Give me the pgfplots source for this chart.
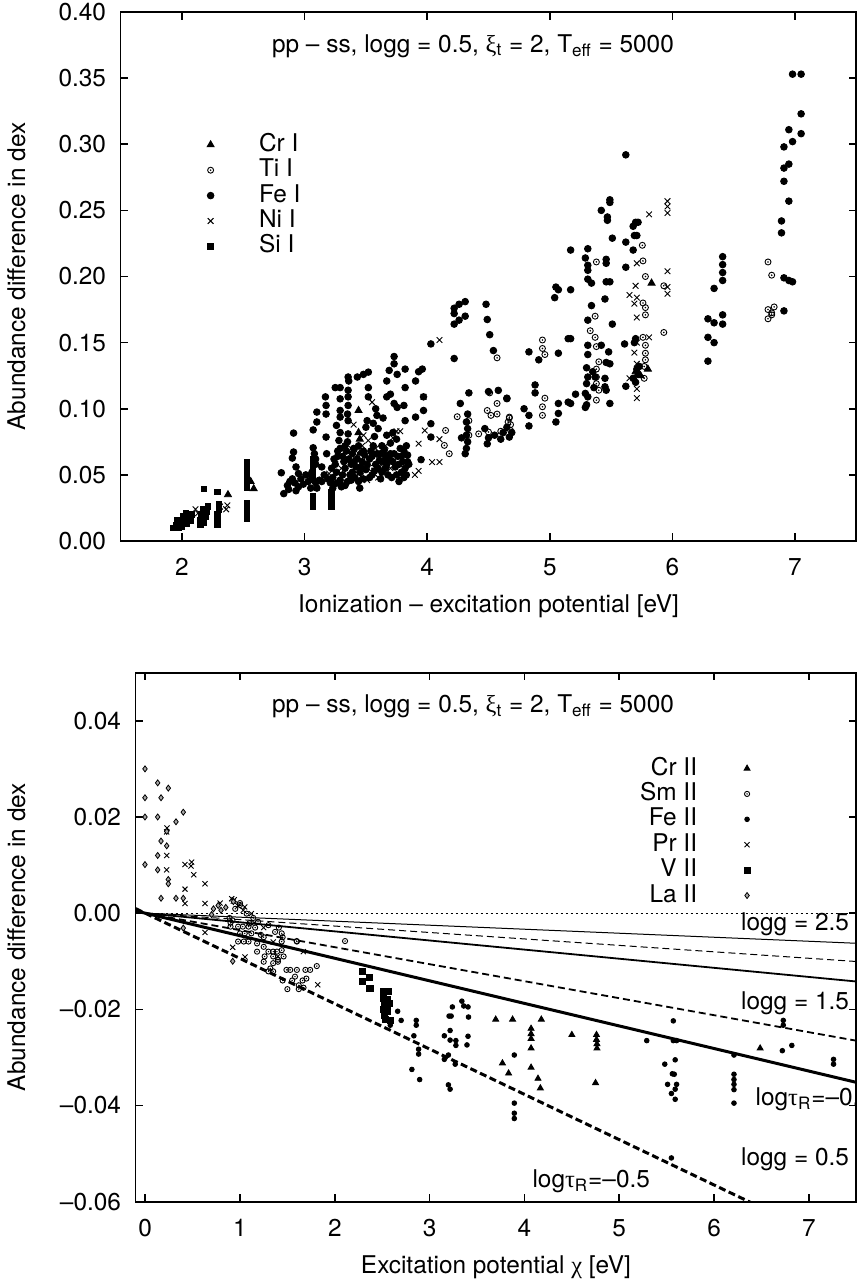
\documentclass[border=0pt]{standalone}
\usepackage{fontspec}
\setmainfont{TeX Gyre Heros}
\newfontfamily\grk{Liberation Serif}
\usepackage{pgfplots}
\pgfplotsset{compat=1.18}

% open circle with a dot in the middle (gnuplot point type 6)
\pgfdeclareplotmark{odot}{%
  \pgfpathcircle{\pgfpointorigin}{\pgfplotmarksize}\pgfusepathqstroke
  \pgfpathcircle{\pgfpointorigin}{0.3\pgfplotmarksize}\pgfusepathqfill}

\pgfplotsset{
  panel/.style={
    scale only axis, height=264.5pt,
    axis line style={line width=0.8pt},
    tick style={line width=0.8pt, black},
    major tick length=3.8pt, tick align=inside,
    scaled ticks=false,
    /pgf/number format/assume math mode=true,
    yticklabel style={xshift=-3.8pt},
    xticklabel style={yshift=-5.3pt},
    legend image code/.code={\draw[##1] plot coordinates {(0pt,0pt)};},
    legend style={draw=none, fill=none, inner sep=0pt, row sep=0pt,
      nodes={inner xsep=0pt, inner ysep=1pt, text height=8.6pt, text depth=2.1pt}},
  },
  pt/.style={only marks, black, mark options={line width=0.45pt, fill=black}},
}

\begin{document}
\begin{tikzpicture}[font=\fontsize{12.2}{14}\selectfont]
\useasboundingbox (-428.15pt,-635pt) rectangle (3.85pt,6pt);

% ---------------- top panel ----------------
\begin{axis}[panel, at={(0pt,0pt)}, anchor=north east, width=367.8pt,
  xmin=1.5, xmax=7.5, ymin=0, ymax=0.4,
  xtick={2,3,4,5,6,7}, xticklabels={2,3,4,5,6,7},
  ytick={0,0.05,0.1,0.15,0.2,0.25,0.3,0.35,0.4},
  yticklabels={0.00,0.05,0.10,0.15,0.20,0.25,0.30,0.35,0.40},
  xlabel={Ionization – excitation potential [eV]},
  ylabel={Abundance difference in dex},
  xlabel style={at={(axis description cs:0.5,-0.1355)}, anchor=base},
  ylabel style={at={(axis description cs:-0.1301,0.5)}, anchor=base},
  legend cell align=left,
  legend style={at={(axis cs:2.202,0.3095)}, anchor=north west, column sep=22.5pt},
]
\addplot[pt, mark=triangle*, mark size=2pt] coordinates {
(2.375,0.035)(2.585,0.0395)(2.56,0.045)(3.44,0.0987)(3.44,0.082)(3.45,0.077)
(3.45,0.066)(3.40,0.060)(5.83,0.195)(5.80,0.13)(5.70,0.128)(5.74,0.125)
};
\addlegendentry{Cr I}
\addplot[pt, mark=odot, mark size=1.5pt] coordinates {
(4.57,0.1385)(4.51,0.112)(4.49,0.0987)(4.57,0.104)(4.52,0.095)(4.57,0.096)
(4.67,0.0937)(4.42,0.081)(4.50,0.0824)(4.60,0.083)(4.68,0.0836)(4.15,0.0836)
(4.14,0.0723)(4.18,0.066)(4.245,0.094)(4.34,0.091)(4.34,0.080)(4.68,0.088)
(4.66,0.090)(4.94,0.152)(4.94,0.1456)(4.96,0.141)(4.96,0.108)(4.94,0.1015)
(4.94,0.095)(4.67,0.093)(5.38,0.211)(5.37,0.17)(5.33,0.159)(5.37,0.154)
(5.38,0.147)(5.40,0.1355)(5.38,0.13)(5.38,0.124)(5.38,0.119)(5.40,0.114)
(5.38,0.1065)(5.755,0.2236)(5.76,0.2118)(5.78,0.20)(5.93,0.193)(5.76,0.18)
(5.78,0.1765)(5.78,0.171)(5.93,0.1577)(5.76,0.154)(5.78,0.148)(5.78,0.142)
(5.78,0.137)(5.77,0.132)(5.77,0.123)(6.78,0.211)(6.81,0.201)(6.83,0.177)
(6.78,0.175)(6.81,0.1725)(6.78,0.168)(6.81,0.171)(3.55,0.055)(3.70,0.062)
(3.78,0.050)
};
\addlegendentry{Ti I}
\addplot[pt, mark=*, mark size=1.65pt] coordinates {
(2.81,0.0516)(2.83,0.0358)(2.91,0.0816)(2.91,0.0673)(2.90,0.0627)(2.93,0.056)
(2.95,0.051)(2.86,0.042)(2.88,0.045)(2.90,0.047)(2.92,0.044)(2.95,0.041)
(2.97,0.047)(2.99,0.043)(2.87,0.039)(2.93,0.038)
(3.07,0.084)(3.07,0.0705)(3.10,0.0975)(3.10,0.090)(3.06,0.052)(3.09,0.058)
(3.08,0.066)(3.09,0.044)(3.10,0.040)(3.06,0.048)(3.09,0.062)
(3.17,0.109)(3.175,0.1025)(3.175,0.096)(3.175,0.0786)(3.18,0.066)(3.16,0.050)
(3.14,0.045)(3.19,0.047)(3.21,0.044)(3.23,0.048)(3.25,0.116)(3.29,0.116)
(3.29,0.1075)(3.29,0.0987)(3.29,0.0937)(3.26,0.0874)(3.29,0.082)(3.28,0.076)
(3.29,0.070)(3.27,0.064)(3.25,0.058)(3.26,0.052)(3.29,0.046)(3.24,0.043)(3.30,0.041)
(3.355,0.124)(3.36,0.121)(3.355,0.114)(3.355,0.109)(3.355,0.1025)(3.35,0.096)
(3.355,0.091)(3.355,0.081)(3.35,0.075)(3.34,0.068)(3.36,0.062)(3.33,0.055)
(3.37,0.050)(3.35,0.045)(3.32,0.060)(3.38,0.058)
(3.43,0.124)(3.48,0.126)(3.52,0.1277)(3.52,0.116)(3.52,0.109)(3.50,0.086)
(3.51,0.091)(3.56,0.089)(3.40,0.070)(3.42,0.056)(3.45,0.052)(3.47,0.060)
(3.49,0.065)(3.50,0.054)(3.53,0.062)(3.54,0.068)(3.55,0.050)(3.48,0.047)
(3.44,0.045)(3.56,0.072)(3.58,0.058)(3.57,0.079)(3.59,0.095)(3.58,0.100)
(3.69,0.129)(3.73,0.1395)(3.73,0.134)(3.755,0.126)(3.67,0.121)(3.67,0.109)
(3.70,0.111)(3.73,0.104)(3.755,0.101)(3.81,0.1025)(3.82,0.130)(3.82,0.116)
(3.82,0.091)(3.72,0.082)(3.67,0.080)(3.75,0.077)(3.62,0.066)(3.64,0.060)
(3.66,0.055)(3.68,0.050)(3.70,0.066)(3.72,0.060)(3.74,0.056)(3.76,0.064)
(3.78,0.070)(3.80,0.060)(3.82,0.055)(3.84,0.065)(3.83,0.072)(3.79,0.052)
(3.81,0.048)(3.63,0.072)(3.70,0.074)(3.62,0.047)(3.66,0.064)(3.85,0.058)
(3.77,0.045)(3.60,0.085)(3.64,0.093)
(3.22,0.055)(3.24,0.062)(3.27,0.068)(3.31,0.050)(3.31,0.064)(3.33,0.072)
(3.38,0.046)(3.39,0.066)(3.41,0.048)(3.43,0.062)(3.44,0.072)(3.46,0.056)
(3.48,0.068)(3.51,0.058)(3.53,0.048)(3.55,0.064)(3.57,0.053)(3.59,0.066)
(3.60,0.055)(3.61,0.061)(3.63,0.052)(3.65,0.069)(3.67,0.058)(3.69,0.062)
(3.71,0.048)(3.73,0.066)(3.75,0.050)(3.77,0.058)(3.79,0.064)(3.81,0.068)
(3.83,0.050)(3.84,0.060)(3.23,0.040)(3.27,0.044)(3.33,0.042)(3.39,0.052)
(3.45,0.040)(3.12,0.046)(3.14,0.056)(3.03,0.045)(3.05,0.040)(3.01,0.050)
(3.905,0.121)(3.93,0.128)(3.96,0.130)(3.97,0.109)(3.97,0.0987)(3.905,0.0937)
(4.03,0.0887)(4.03,0.0786)(3.95,0.0615)(4.03,0.149)
(4.22,0.176)(4.22,0.172)(4.26,0.179)(4.31,0.181)(4.26,0.167)(4.31,0.170)
(4.22,0.164)(4.22,0.138)(4.34,0.112)(4.27,0.104)(4.33,0.096)(4.32,0.090)
(4.33,0.085)(4.32,0.080)(4.33,0.075)(4.32,0.070)(4.31,0.066)(4.28,0.078)
(4.48,0.179)(4.49,0.1675)(4.51,0.156)(4.54,0.144)(4.50,0.113)(4.58,0.1139)
(4.65,0.1076)(4.49,0.0735)(4.60,0.077)(4.67,0.0786)(4.47,0.085)(4.50,0.078)
(4.55,0.080)(4.62,0.082)(4.65,0.086)(4.69,0.082)
(4.83,0.143)(4.91,0.137)(4.88,0.118)(4.88,0.112)(4.83,0.095)(4.83,0.087)
(4.79,0.100)(4.65,0.108)(5.07,0.104)(5.07,0.0965)(5.05,0.090)(5.15,0.105)
(5.17,0.104)(5.21,0.111)(5.05,0.192)(5.07,0.19)(5.04,0.184)(5.17,0.19)
(5.17,0.220)(5.15,0.153)(5.17,0.153)(5.07,0.142)
(5.31,0.221)(5.29,0.214)(5.31,0.2085)(5.31,0.2047)(5.31,0.198)(5.34,0.195)
(5.46,0.213)(5.46,0.21)(5.46,0.196)(5.49,0.196)(5.45,0.183)(5.34,0.178)
(5.31,0.167)(5.51,0.164)(5.49,0.258)(5.49,0.256)(5.42,0.250)(5.47,0.245)
(5.47,0.2425)(5.51,0.229)(5.31,0.148)(5.31,0.141)(5.42,0.148)(5.48,0.143)
(5.46,0.135)(5.49,0.134)(5.30,0.131)(5.31,0.124)(5.30,0.119)(5.29,0.1116)
(5.31,0.109)(5.30,0.103)(5.29,0.101)(5.45,0.123)(5.45,0.1166)(5.46,0.114)
(5.49,0.104)(5.36,0.116)(5.37,0.124)(5.35,0.128)
(5.62,0.292)(5.70,0.241)(5.72,0.241)(5.68,0.238)(5.69,0.231)(5.71,0.231)
(5.62,0.226)(5.68,0.220)(5.62,0.207)(5.61,0.149)(5.62,0.117)(5.70,0.153)
(5.69,0.150)(5.73,0.132)(5.71,0.130)(5.68,0.123)(5.70,0.120)(5.72,0.126)
(6.29,0.168)(6.34,0.165)(6.41,0.171)(6.41,0.164)(6.29,0.154)(6.34,0.150)
(6.29,0.136)(6.34,0.191)(6.41,0.215)(6.41,0.209)(6.41,0.203)(6.41,0.197)
(6.98,0.353)(7.05,0.353)(7.05,0.323)(6.95,0.311)(7.05,0.308)(6.98,0.302)
(6.91,0.298)(6.91,0.282)(6.95,0.285)(6.91,0.272)(6.95,0.257)(6.89,0.242)
(6.89,0.233)(6.91,0.199)(6.95,0.197)(6.98,0.196)(6.91,0.174)
};
\addlegendentry{Fe I}
\addplot[pt, mark=x, mark size=2pt] coordinates {
(2.11,0.024)(2.13,0.021)(2.31,0.026)(2.37,0.027)(2.36,0.024)(3.55,0.105)
(4.10,0.152)(3.97,0.109)(3.98,0.0836)(3.93,0.0736)(3.93,0.053)(3.90,0.050)
(4.04,0.0597)(4.10,0.0597)(4.10,0.077)(3.20,0.051)(3.30,0.055)(3.35,0.060)
(3.42,0.068)(3.47,0.072)(3.52,0.076)(3.57,0.065)(3.62,0.058)(3.66,0.072)
(3.70,0.055)(3.75,0.083)(3.78,0.083)(3.51,0.046)(3.46,0.049)(3.60,0.048)
(3.40,0.088)(3.25,0.062)(3.38,0.070)(3.48,0.080)(3.58,0.070)(3.68,0.066)
(3.72,0.078)
(5.96,0.257)(5.96,0.253)(5.96,0.248)(5.81,0.247)(5.96,0.204)(5.71,0.21)
(5.70,0.193)(5.65,0.186)(5.71,0.184)(5.69,0.1795)(5.71,0.169)(5.96,0.192)
(5.96,0.187)(5.81,0.154)(5.71,0.150)(5.69,0.1425)(5.71,0.134)(5.65,0.123)
(5.71,0.115)(5.71,0.108)
};
\addlegendentry{Ni I}
\addplot[pt, mark=square*, mark size=1.35pt] coordinates {
(1.93,0.010)(1.95,0.012)(1.97,0.010)(1.99,0.014)(2.00,0.011)(2.02,0.016)
(2.04,0.013)(2.05,0.018)(2.07,0.015)(2.08,0.020)(1.96,0.016)(2.01,0.019)
(2.03,0.021)(1.98,0.012)
(2.15,0.012)(2.15,0.016)(2.16,0.020)(2.17,0.024)(2.18,0.014)(2.19,0.018)
(2.20,0.022)(2.21,0.026)(2.18,0.0395)
(2.29,0.012)(2.29,0.016)(2.29,0.020)(2.30,0.024)(2.30,0.028)(2.29,0.037)
(2.53,0.017)(2.53,0.021)(2.53,0.025)(2.53,0.029)(2.53,0.040)(2.53,0.044)
(2.53,0.048)(2.53,0.052)(2.53,0.056)(2.53,0.060)
(3.07,0.026)(3.07,0.030)(3.07,0.034)(3.07,0.046)(3.07,0.050)(3.07,0.054)
(3.07,0.058)(3.07,0.062)
(3.22,0.026)(3.22,0.030)(3.22,0.034)(3.22,0.037)
};
\addlegendentry{Si I}
\node[anchor=base west] at (axis cs:2.677,0.3697)
  {pp – ss, logg = 0.5, {\grk ξ}\textsubscript{t} = 2, T\textsubscript{eff} = 5000};
\end{axis}

% ---------------- bottom panel ----------------
\begin{axis}[panel, at={(0pt,-330.35pt)}, anchor=north east, width=360.3pt,
  xmin=-0.1, xmax=7.5, ymin=-0.06, ymax=0.05,
  xtick={0,1,2,3,4,5,6,7}, xticklabels={0,1,2,3,4,5,6,7},
  ytick={-0.06,-0.04,-0.02,0,0.02,0.04},
  yticklabels={–0.06,–0.04,–0.02,0.00,0.02,0.04},
  xlabel={Excitation potential {\grk χ} [eV]},
  ylabel={Abundance difference in dex},
  xlabel style={at={(axis description cs:0.5,-0.1355)}, anchor=base},
  ylabel style={at={(axis description cs:-0.1536,0.5)}, anchor=base},
  legend plot pos=right, legend cell align=right,
  legend style={at={(axis cs:6.384,0.0328)}, anchor=north east, column sep=23.5pt},
]
% reference lines
\addplot[forget plot, black, line width=0.4pt, dash pattern=on 1pt off 1.5pt]
  coordinates {(-0.1,0)(7.5,0)};
\addplot[forget plot, black, line width=0.5pt]
  coordinates {(-0.1,0.0000835)(7.5,-0.00626)};
\addplot[forget plot, black, line width=0.5pt, dash pattern=on 3.5pt off 2pt]
  coordinates {(-0.1,0.000134)(7.5,-0.01005)};
\addplot[forget plot, black, line width=0.9pt]
  coordinates {(-0.1,0.00019)(7.5,-0.01421)};
\addplot[forget plot, black, line width=0.9pt, dash pattern=on 3.5pt off 2pt]
  coordinates {(-0.1,0.00035)(7.5,-0.02652)};
\addplot[forget plot, black, line width=1.5pt]
  coordinates {(-0.1,0.00047)(7.5,-0.03518)};
\addplot[forget plot, black, line width=1.5pt, dash pattern=on 3.5pt off 1.8pt]
  coordinates {(-0.1,0.00094)(7.5,-0.07065)};

\addplot[pt, mark=triangle*, mark size=1.7pt] coordinates {
(3.697,-0.0221)(3.875,-0.0221)(4.178,-0.0221)(4.07,-0.0240)(4.07,-0.0251)
(4.07,-0.0261)(4.07,-0.0281)(4.07,-0.0321)(3.768,-0.0312)(3.833,-0.0333)
(4.143,-0.0344)(4.168,-0.0364)(4.50,-0.0253)(4.76,-0.0253)(4.76,-0.0263)
(4.765,-0.0272)(4.765,-0.0281)(4.75,-0.0353)(6.486,-0.0281)
};
\addlegendentry{Cr II}
\addplot[pt, mark=odot, mark size=1.3pt] coordinates {
(0.89,-0.0010)(0.90,-0.0020)(0.92,-0.0015)(0.95,0.0009)(1.00,0.0021)(1.00,0.0017)
(0.90,-0.0028)(0.98,-0.0028)(1.03,-0.0028)(1.09,-0.0028)(1.00,-0.0042)(1.05,-0.0042)
(1.12,-0.0042)(0.98,-0.0059)(1.04,-0.0059)(1.09,-0.0059)(1.25,-0.0050)(1.18,-0.0063)
(1.18,-0.0080)(1.25,-0.0070)(1.30,-0.0080)(1.35,-0.0080)(1.39,-0.0080)(1.26,-0.0090)
(1.35,-0.0090)(1.40,-0.0097)(1.46,-0.0090)(1.25,-0.0101)(1.35,-0.0104)(1.40,-0.0101)
(1.32,-0.0115)(1.49,-0.0118)(1.53,-0.0118)(1.60,-0.0118)(1.69,-0.0118)(1.74,-0.0118)
(1.81,-0.0110)(1.58,-0.0132)(1.70,-0.0136)(1.44,-0.0059)(1.44,-0.0077)(1.37,-0.0039)
(1.44,-0.0042)(1.60,-0.0059)(1.14,-0.0010)(1.19,-0.0018)(1.07,-0.0001)(1.10,-0.0021)
(1.16,-0.0030)(1.22,-0.0045)(1.30,-0.0025)(1.41,-0.0030)(1.45,-0.0050)(2.108,-0.0058)
(1.598,-0.0058)(1.45,-0.0140)(1.55,-0.0140)(1.62,-0.0150)(1.66,-0.0140)(1.50,-0.0158)
(1.62,-0.0158)(1.67,-0.0155)(1.30,-0.0121)(1.35,-0.0121)
};
\addlegendentry{Sm II}
\addplot[pt, mark=*, mark size=1.15pt] coordinates {
(2.663,-0.0204)(2.70,-0.0223)(2.585,-0.0233)(2.58,-0.0226)(2.859,-0.0223)
(2.859,-0.0233)(2.834,-0.0255)(2.884,-0.0283)(2.884,-0.0293)(2.813,-0.0325)
(2.895,-0.0346)(3.24,-0.0195)(3.34,-0.0183)(3.36,-0.0193)(3.405,-0.0195)
(3.205,-0.0214)(3.227,-0.0214)(3.41,-0.0216)(3.216,-0.0244)(3.155,-0.0255)
(3.216,-0.0264)(3.277,-0.0265)(3.277,-0.0275)(3.405,-0.0256)(3.394,-0.0274)
(3.198,-0.0295)(3.155,-0.0304)(3.27,-0.0314)(3.198,-0.0357)(3.216,-0.0366)
(3.893,-0.0295)(3.893,-0.0395)(3.893,-0.0416)(3.893,-0.0427)(5.29,-0.0265)
(5.57,-0.0224)(5.57,-0.0265)(5.605,-0.0265)(5.48,-0.0314)(5.59,-0.0305)
(5.56,-0.0334)(5.58,-0.0335)(5.51,-0.0356)(5.605,-0.0356)(5.59,-0.0366)
(5.55,-0.0375)(5.59,-0.0387)(5.55,-0.0509)(6.21,-0.0295)(6.21,-0.0335)
(6.21,-0.0346)(6.21,-0.0356)(6.21,-0.0367)(6.21,-0.0395)(6.73,-0.0223)
(6.73,-0.0233)(6.82,-0.0275)(6.72,-0.0286)(7.26,-0.0304)(7.26,-0.0314)
};
\addlegendentry{Fe II}
\addplot[pt, mark=x, mark size=1.8pt] coordinates {
(0.227,0.0169)(0.23,0.0177)(0.227,0.0120)(0.227,0.0090)(0.42,0.0101)(0.49,0.0106)
(0.484,0.0098)(0.512,0.0080)(0.631,0.0061)(0.42,0.0050)(0.42,0.0020)(0.631,0.0020)
(0.79,0.0021)(0.912,0.0030)(0.93,0.0025)(0.631,-0.004)(0.923,-0.0071)(1.053,-0.0091)
(1.035,0.0006)(1.12,-0.0001)(1.668,-0.008)(1.82,-0.0149)(0.98,0.0015)(1.05,0.0013)
(1.15,-0.002)(1.25,-0.003)(1.35,-0.006)(1.40,-0.009)(0.94,0.0028)
};
\addlegendentry{Pr II}
\addplot[pt, mark=square*, mark size=1.5pt] coordinates {
(2.288,-0.0121)(2.288,-0.0142)(2.37,-0.0134)(2.37,-0.0156)(2.38,-0.0157)
(2.513,-0.0162)(2.57,-0.0162)(2.51,-0.0178)(2.52,-0.0185)(2.53,-0.0192)
(2.51,-0.0200)(2.55,-0.0180)(2.56,-0.0195)(2.52,-0.0212)(2.55,-0.0205)
(2.53,-0.0220)(2.59,-0.0223)(2.58,-0.0188)
};
\addlegendentry{V II}
\addplot[pt, mark=diamond*, mark size=1.5pt, mark options={fill=gray!70}] coordinates {
(-0.002,0.0300)(0.132,0.0271)(0.244,0.0260)(-0.002,0.0240)(0.167,0.0240)
(-0.002,0.0200)(0.132,0.0200)(0.325,0.0190)(0.402,0.0210)(0.227,0.0170)
(0.167,0.0150)(0.227,0.0140)(0.132,0.0120)(-0.002,0.0101)(0.132,0.0090)
(0.244,0.0070)(0.244,0.0061)(0.167,0.0031)(0.325,0.0031)(0.402,0.0031)
(0.402,-0.0031)(0.923,-0.0100)(0.72,0.0009)(0.77,0.0016)(0.70,-0.0003)
(0.85,0.0012)(0.80,0.0006)(0.93,0.0024)
};
\addlegendentry{La II}

\node[anchor=base west] at (axis cs:1.264,0.0417)
  {pp – ss, logg = 0.5, {\grk ξ}\textsubscript{t} = 2, T\textsubscript{eff} = 5000};
\node[anchor=base west] at (axis cs:6.211,-0.00366) {logg = 2.5};
\node[anchor=base west] at (axis cs:6.211,-0.0200) {logg = 1.5};
\node[anchor=base west] at (axis cs:6.211,-0.0525) {logg = 0.5};
\node[anchor=base west] at (axis cs:4.011,-0.0571) {log{\grk τ}\textsubscript{R}=–0.5};
\begin{scope}
  \clip (rel axis cs:0,0) rectangle (rel axis cs:1,1);
  \node[anchor=base west] at (axis cs:6.364,-0.0399) {log{\grk τ}\textsubscript{R}=–0.1};
\end{scope}
\end{axis}
\end{tikzpicture}
\end{document}
